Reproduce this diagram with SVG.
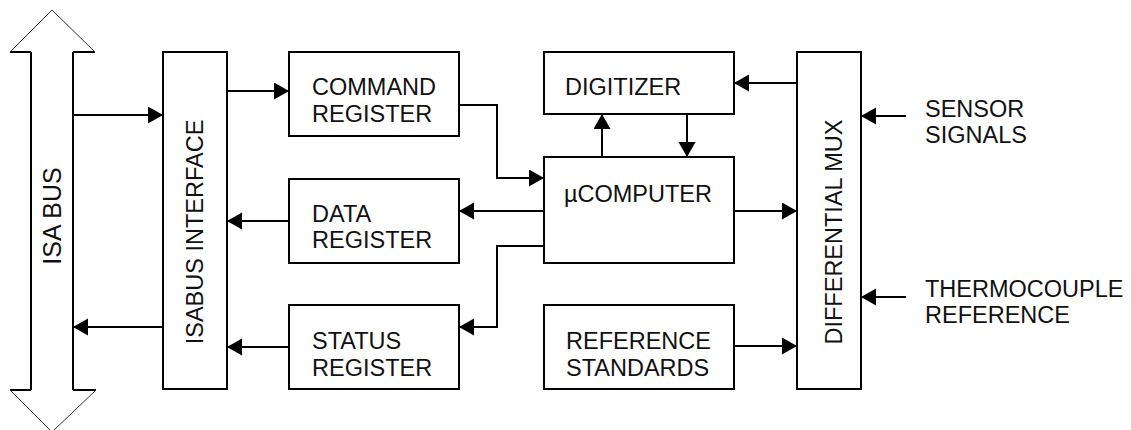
<svg xmlns="http://www.w3.org/2000/svg" width="1131" height="430" viewBox="0 0 1131 430">
  <style>
    .box { fill: #fff; stroke: #000; stroke-width: 2; }
    .lbl { font-family: "Liberation Sans", Arial, sans-serif; font-size: 23.5px; fill: #111; }
    .mid { text-anchor: middle; }
    .wire { fill: none; stroke: #000; stroke-width: 2; marker-end: url(#arrow); }
    .bus { fill: none; stroke: #000; stroke-width: 2; }
    .bushead { fill: none; stroke: #333; stroke-width: 1; }
  </style>
  <defs>
    <marker id="arrow" markerUnits="userSpaceOnUse" markerWidth="16" markerHeight="18" refX="15" refY="8.5" orient="auto">
      <path d="M0,0 L15,8.5 L0,17 Z" fill="#000"/>
    </marker>
  </defs>
  <rect width="1131" height="430" fill="#fff"/>

  <!-- ISA bus: double-headed block arrow -->
  <g id="isa-bus">
    <path class="bus" d="M31,52 V390 M73,52 V390 M10,52 H31 M73,52 H95 M10,390 H31 M73,390 H96"/>
    <path class="bushead" d="M10,52 L52,10 L95,52 M10,390 L52,432 L96,390"/>
    <text class="lbl mid" style="font-size:25px" transform="translate(61,216) rotate(-90)">ISA BUS</text>
  </g>

  <g id="isabus-interface">
    <rect class="box" x="163" y="52" width="64" height="337"/>
    <text class="lbl mid" transform="translate(203,232) rotate(-90)">ISABUS INTERFACE</text>
  </g>

  <g id="command-register">
    <rect class="box" x="289" y="52" width="170" height="84"/>
    <text class="lbl" x="312" y="95">COMMAND</text>
    <text class="lbl" x="312" y="122">REGISTER</text>
  </g>

  <g id="data-register">
    <rect class="box" x="289" y="179" width="170" height="84"/>
    <text class="lbl" x="312" y="222">DATA</text>
    <text class="lbl" x="312" y="248">REGISTER</text>
  </g>

  <g id="status-register">
    <rect class="box" x="289" y="305" width="170" height="84"/>
    <text class="lbl" x="312" y="349">STATUS</text>
    <text class="lbl" x="312" y="376">REGISTER</text>
  </g>

  <g id="digitizer">
    <rect class="box" x="544" y="52" width="190" height="62"/>
    <text class="lbl" x="565" y="95">DIGITIZER</text>
  </g>

  <g id="microcomputer">
    <rect class="box" x="544" y="157" width="190" height="106"/>
    <text class="lbl" x="564" y="202">µCOMPUTER</text>
  </g>

  <g id="reference-standards">
    <rect class="box" x="544" y="305" width="190" height="84"/>
    <text class="lbl" x="566" y="349">REFERENCE</text>
    <text class="lbl" x="566" y="376">STANDARDS</text>
  </g>

  <g id="differential-mux">
    <rect class="box" x="797" y="52" width="64" height="337"/>
    <text class="lbl mid" transform="translate(842,232) rotate(-90)">DIFFERENTIAL MUX</text>
  </g>

  <g id="sensor-signals">
    <text class="lbl" x="925" y="117">SENSOR</text>
    <text class="lbl" x="925" y="143">SIGNALS</text>
  </g>

  <g id="thermocouple-reference">
    <text class="lbl" x="925" y="297">THERMOCOUPLE</text>
    <text class="lbl" x="925" y="323">REFERENCE</text>
  </g>

  <!-- signal paths between blocks -->
  <g id="connectors">
    <path class="wire" d="M73,115 H163"/>
    <path class="wire" d="M227,91 H289"/>
    <path class="wire" d="M289,221 H227"/>
    <path class="wire" d="M163,327 H73"/>
    <path class="wire" d="M289,347 H227"/>
    <path class="wire" d="M459,105 H497 V178 H544"/>
    <path class="wire" d="M544,211 H459"/>
    <path class="wire" d="M544,246 H497 V327 H459"/>
    <path class="wire" d="M602,157 V114"/>
    <path class="wire" d="M687,114 V157"/>
    <path class="wire" d="M797,83 H734"/>
    <path class="wire" d="M734,211 H797"/>
    <path class="wire" d="M734,346 H797"/>
    <path class="wire" d="M906,116 H861"/>
    <path class="wire" d="M906,297 H861"/>
  </g>
</svg>
